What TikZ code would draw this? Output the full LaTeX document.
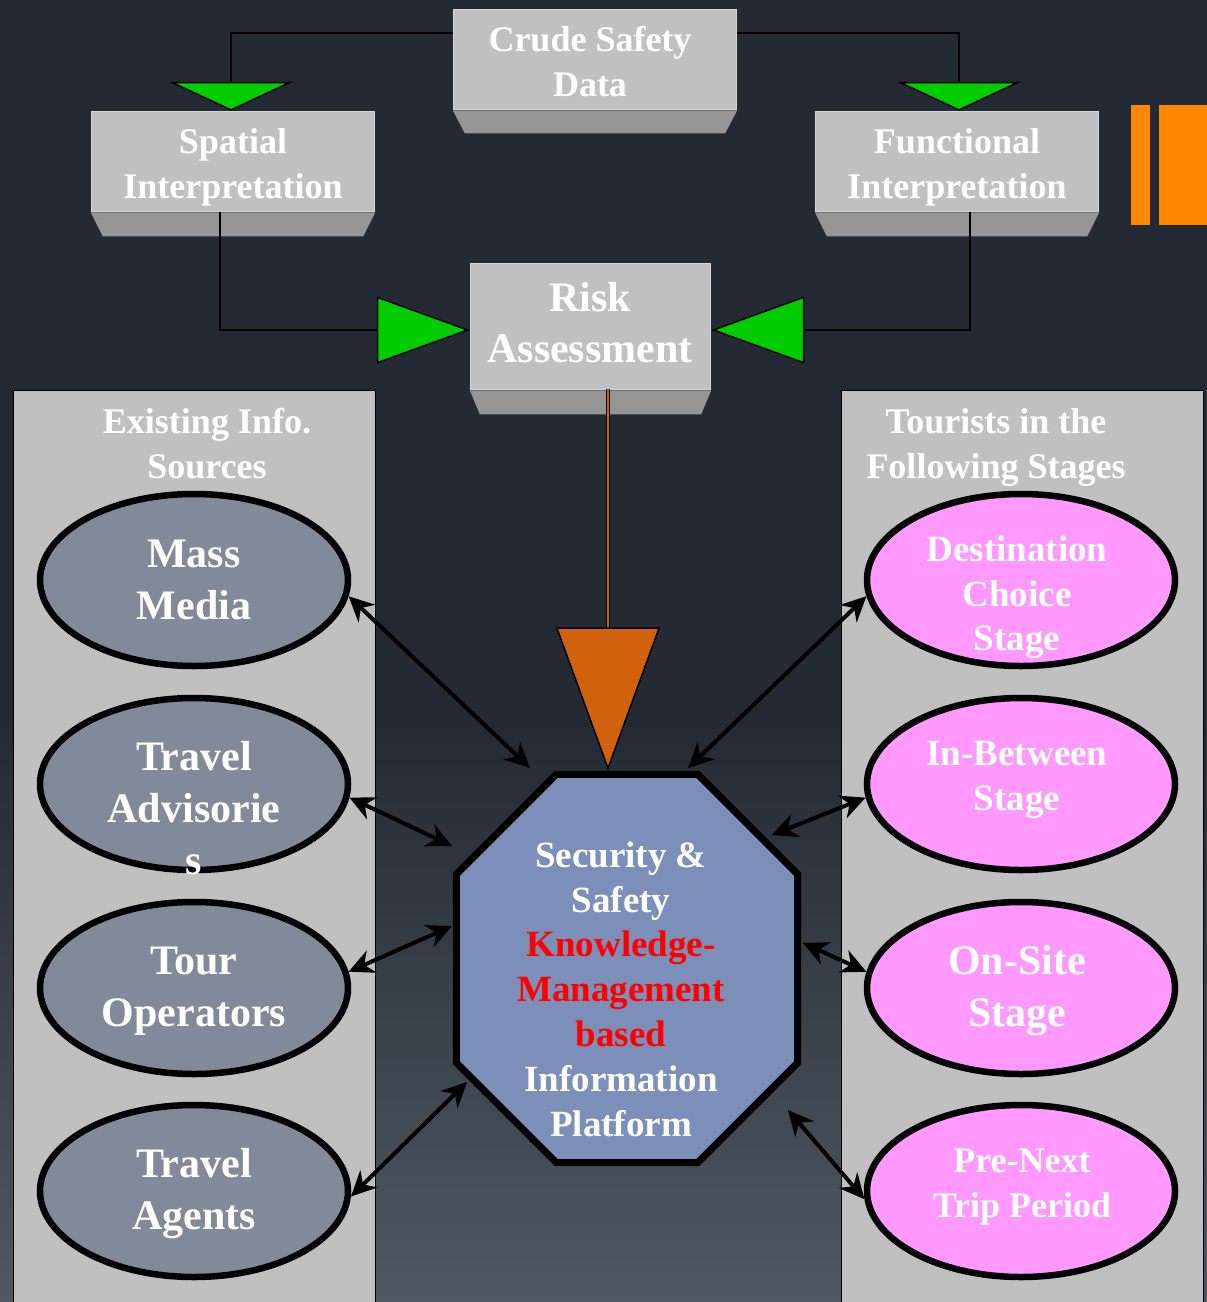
\documentclass[tikz,border=0pt]{standalone}
\usepackage{fontspec}
\setmainfont{Liberation Serif}
\usetikzlibrary{arrows.meta,shapes.geometric,calc}
\definecolor{bgdark}{HTML}{232A33}
\definecolor{bglight}{HTML}{4F5863}
\definecolor{boxfront}{HTML}{C0C0C0}
\definecolor{boxbottom}{HTML}{969696}
\definecolor{boxedge}{HTML}{D6D6D6}
\definecolor{greentri}{HTML}{00CC00}
\definecolor{orangetri}{HTML}{D0620E}
\definecolor{octfill}{HTML}{7B8FB8}
\definecolor{srcfill}{HTML}{808A99}
\definecolor{stagefill}{HTML}{FF99FF}
\definecolor{panelfill}{HTML}{C0C0C0}
\definecolor{barorange}{HTML}{FF8800}
\definecolor{redtext}{HTML}{FF0000}
\tikzset{
  box3d/.style={fill=boxfront, draw=boxedge, line width=1.5pt, inner sep=0pt},
  boxbase/.style={fill=boxbottom},
  boxtxt/.style={text=white, align=center, font=\fontsize{36}{45}\selectfont\bfseries},
  panel/.style={fill=panelfill, draw=black, line width=1pt, inner sep=0pt},
  hdr/.style={text=white, align=center, font=\fontsize{36}{45}\selectfont\bfseries},
  srcell/.style={ellipse, fill=srcfill, draw=black, line width=6.5pt,
    minimum width=308pt, minimum height=172pt, inner sep=0pt},
  stgell/.style={ellipse, fill=stagefill, draw=black, line width=6.5pt,
    minimum width=308pt, minimum height=172pt, inner sep=0pt},
  bigtxt/.style={text=white, align=center, font=\fontsize{42}{52}\selectfont\bfseries},
  midtxt/.style={text=white, align=center, font=\fontsize{37}{44.5}\selectfont\bfseries},
  conn/.style={draw=black, line width=2.5pt},
  gtipdown/.style={-{Triangle[length=29pt,width=124pt,color=black,fill=greentri,line width=1.5pt]}},
  gtipside/.style={-{Triangle[length=93pt,width=67pt,color=black,fill=greentri,line width=1.5pt]}},
  dbl/.style={line width=4pt, draw=black,
    {Stealth[length=25pt,width=24pt,inset=8pt]}-{Stealth[length=25pt,width=24pt,inset=8pt]}}
}
\begin{document}
\begin{tikzpicture}[x=1pt,y=-1pt]
\useasboundingbox (0,0) rectangle (1207,1302);
% background
\fill[bgdark] (0,0) rectangle (1207,1302);
\shade[top color=bgdark, bottom color=bglight] (0,720) rectangle (1207,1302);
\fill[barorange] (1131,105) rectangle (1150,225);
\fill[barorange] (1159,105) rectangle (1207,225);

% side panels
\node[panel, anchor=north west, minimum width=362pt, minimum height=930pt] (srcpanel) at (13,390) {};
\node[panel, anchor=north west, minimum width=362pt, minimum height=930pt] (stgpanel) at (841,390) {};
\node[hdr] (srchdr) at (207,444) {Existing Info.\\Sources};
\node[hdr] (stghdr) at (996,447) {Tourists in the\\Following Stages};

% 3D boxes
\node[box3d, minimum width=283pt, minimum height=100pt] (crude) at (595,59.5) {};
\fill[boxbase] (crude.south west) -- (crude.south east) -- ++(-12,23) -- ($(crude.south west)+(12,23)$) -- cycle;
\node[boxtxt] (crudet) at (590,61.5) {Crude Safety\\Data};
\node[box3d, minimum width=283pt, minimum height=100pt] (spatial) at (233,161.5) {};
\fill[boxbase] (spatial.south west) -- (spatial.south east) -- ++(-12,24) -- ($(spatial.south west)+(12,24)$) -- cycle;
\node[boxtxt] (spatialt) at (233,167) {Spatial\\Interpretation};
\node[box3d, minimum width=283pt, minimum height=100pt] (functional) at (957,161.5) {};
\fill[boxbase] (functional.south west) -- (functional.south east) -- ++(-12,24) -- ($(functional.south west)+(12,24)$) -- cycle;
\node[boxtxt] (functionalt) at (957,167) {Functional\\Interpretation};
\node[box3d, minimum width=240pt, minimum height=126pt] (risk) at (590.5,326.5) {};
\fill[boxbase] (risk.south west) -- (risk.south east) -- ++(-10,24) -- ($(risk.south west)+(10,24)$) -- cycle;
\node[boxtxt, font=\fontsize{42}{51}\selectfont\bfseries] (riskt) at (590,322.5) {Risk\\Assessment};

% top connectors
\draw[conn, gtipdown] ($(crude.north west)+(0,24)$) -| ($(spatial.north)+(-2,0)$);
\draw[conn, gtipdown] ($(crude.north east)+(0,24)$) -| ($(functional.north)+(2,0)$);
\draw[conn, gtipside] ($(spatial.south)+(-13,0)$) |- ($(risk.west)+(0,3.5)$);
\draw[conn, gtipside] ($(functional.south)+(13,0)$) |- ($(risk.east)+(0,3.5)$);

% central octagon
\node[minimum width=341pt, minimum height=388pt, inner sep=0pt] (kmp) at (627,968.5) {};
\draw[fill=octfill, draw=black, line width=7pt]
  ($(kmp.north west)+(100,0)$) -- ($(kmp.north east)+(-100,0)$) -- ($(kmp.north east)+(0,100)$)
  -- ($(kmp.south east)+(0,-100)$) -- ($(kmp.south east)+(-100,0)$) -- ($(kmp.south west)+(100,0)$)
  -- ($(kmp.south west)+(0,-100)$) -- ($(kmp.north west)+(0,100)$) -- cycle;
\node[midtxt, font=\fontsize{37}{44.8}\selectfont\bfseries] (kmptxt) at (621,989)
  {Security \&\\Safety\\\textcolor{redtext}{Knowledge-}\\\textcolor{redtext}{Management}\\\textcolor{redtext}{based}\\Information\\Platform};

% risk -> platform
\coordinate (rstart) at ($(risk.south)+(17.5,-1)$);
\coordinate (otip) at ($(rstart |- kmp.north)+(0,-4)$);
\draw[line width=4.5pt, black, shorten >=140pt] (rstart) -- (otip);
\draw[line width=2pt, orangetri, -{Triangle[length=143pt,width=104pt,color=black,fill=orangetri,line width=1.5pt]}] (rstart) -- (otip);

% source ellipses
\node[srcell] (mm) at (194,580) {};
\node[bigtxt] (mmt) at (194,580) {Mass\\Media};
\node[srcell] (ta) at (194,784) {};
\node[bigtxt] (tat) at (194,808) {Travel\\Advisorie\\s};
\node[srcell] (to) at (194,988) {};
\node[bigtxt] (tot) at (194,991) {Tour\\Operators};
\node[srcell] (tg) at (194,1191) {};
\node[bigtxt] (tgt) at (194,1194) {Travel\\Agents};

% stage ellipses
\node[stgell] (dc) at (1021,580) {};
\node[midtxt] (dct) at (1017,597.5) {Destination\\Choice\\Stage};
\node[stgell] (ib) at (1021,784) {};
\node[midtxt] (ibt) at (1017,780) {In-Between\\Stage};
\node[stgell] (os) at (1021,988) {};
\node[bigtxt] (ost) at (1017,991) {On-Site\\Stage};
\node[stgell] (pn) at (1021,1191) {};
\node[midtxt, font=\fontsize{36}{45}\selectfont\bfseries] (pnt) at (1022,1187) {Pre-Next\\Trip Period};

% two-way connectors
\draw[dbl] (mm.-6) -- ($(kmp.center)+(-97,-200.5)$);
\draw[dbl] (ta.-5) -- ($(kmp.center)+(-175,-122.5)$);
\draw[dbl] (to.6) -- ($(kmp.center)+(-175,-42.5)$);
\draw[dbl] (tg.-2) -- ($(kmp.center)+(-160,113.5)$);
\draw[dbl] (dc.-174) -- ($(kmp.center)+(61,-200.5)$);
\draw[dbl] (ib.-175) -- ($(kmp.center)+(145,-133.5)$);
\draw[dbl] (os.174) -- ($(kmp.center)+(176,-25.5)$);
\draw[dbl] (pn.-177) -- ($(kmp.center)+(161,141.5)$);
\end{tikzpicture}
\end{document}
